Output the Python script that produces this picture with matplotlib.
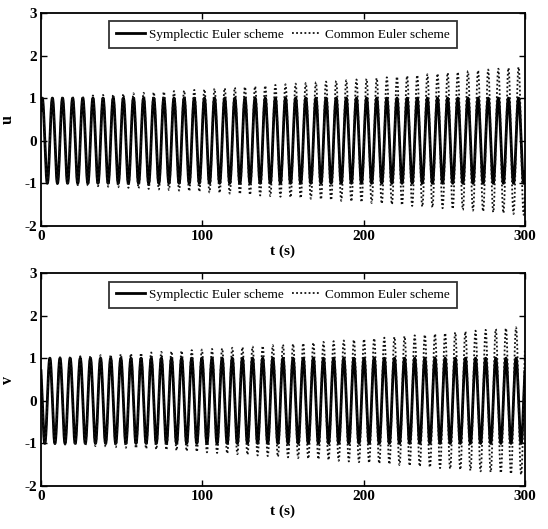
import numpy as np
import matplotlib
matplotlib.use("Agg")
import matplotlib.pyplot as plt

# Harmonic oscillator u' = w*v, v' = -w*u integrated with two Euler schemes
OMEGA = 1.0          # angular frequency (rad/s)
STEP = 0.0037        # time step (s)
T_END = 300.0        # simulated time (s)
U0 = 0.7071          # initial u
V0 = 0.7071          # initial v

series_names = ["Symplectic Euler scheme", "Common Euler scheme"]
panel_labels = ["u", "v"]
x_ticks = [0, 100, 200, 300]
y_ticks = [-2, -1, 0, 1, 2, 3]


def symplectic_euler(u0, v0, w, h, n):
    u = np.empty(n + 1)
    v = np.empty(n + 1)
    u[0], v[0] = u0, v0
    for k in range(n):
        u[k + 1] = u[k] + h * w * v[k]
        v[k + 1] = v[k] - h * w * u[k + 1]
    return u, v


def explicit_euler(u0, v0, w, h, n):
    u = np.empty(n + 1)
    v = np.empty(n + 1)
    u[0], v[0] = u0, v0
    for k in range(n):
        u[k + 1] = u[k] + h * w * v[k]
        v[k + 1] = v[k] - h * w * u[k]
    return u, v


n_steps = int(round(T_END / STEP))
t = np.linspace(0.0, n_steps * STEP, n_steps + 1)
u_sym, v_sym = symplectic_euler(U0, V0, OMEGA, STEP, n_steps)
u_exp, v_exp = explicit_euler(U0, V0, OMEGA, STEP, n_steps)

plt.rcParams["font.family"] = ["Liberation Serif", "DejaVu Serif"]
plt.rcParams["axes.unicode_minus"] = False

fig = plt.figure(figsize=(5.48, 5.29), dpi=100)
ax_top = fig.add_axes([0.0748, 0.573, 0.883, 0.4026])
ax_bot = fig.add_axes([0.0748, 0.0813, 0.883, 0.4026])

for ax, ysym, yexp, lab in [(ax_top, u_sym, u_exp, panel_labels[0]),
                            (ax_bot, v_sym, v_exp, panel_labels[1])]:
    ax.plot(t, ysym, color="black", lw=2.0, ls="-", label=series_names[0])
    ax.plot(t, yexp, color="#111111", lw=1.3, ls=(0, (1, 1.3)), label=series_names[1])
    ax.set_xlim(0, 300)
    ax.set_ylim(-2, 3)
    ax.set_xticks(x_ticks)
    ax.set_yticks(y_ticks)
    ax.tick_params(direction="in", top=True, right=True, length=4, width=1,
                   labelsize=11, pad=3)
    for tl in ax.get_xticklabels() + ax.get_yticklabels():
        tl.set_fontweight("bold")
    for sp in ax.spines.values():
        sp.set_linewidth(1.3)
    ax.set_xlabel("t (s)", fontsize=11, fontweight="bold", labelpad=1)
    ax.set_ylabel(lab, fontsize=11.5, fontweight="bold", labelpad=6)
    leg = ax.legend(loc="upper center", ncol=2, fontsize=9.5, frameon=True,
                    fancybox=False, edgecolor="black", handlelength=2.2,
                    columnspacing=0.6, handletextpad=0.3, borderpad=0.55,
                    borderaxespad=0.65)
    leg.get_frame().set_linewidth(1.3)

fig.savefig("out.png", dpi=100)
